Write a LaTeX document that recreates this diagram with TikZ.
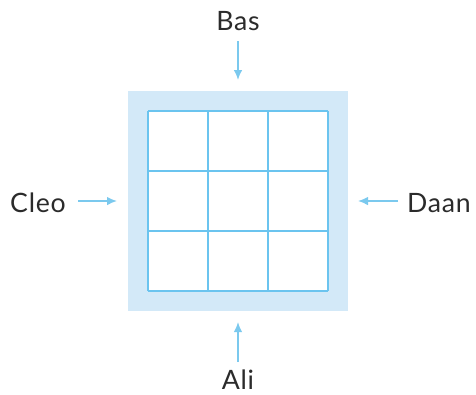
\documentclass[tikz,border=0pt]{standalone}
\usepackage{fontspec}
\setmainfont{Lato}[LetterSpace=3]
\usetikzlibrary{arrows.meta}
\definecolor{boardfill}{HTML}{D3E9F8}
\definecolor{gridline}{HTML}{6BC4EF}
\definecolor{arrowcol}{HTML}{7BC9EE}
\definecolor{textcol}{HTML}{2B2B2B}
\tikzset{
  lbl/.style={font=\fontsize{20}{24}\selectfont, text=textcol, inner sep=0pt},
  pointer/.style={draw=arrowcol, line width=1.2pt, -{Latex[length=7.5pt,width=6.5pt]}},
  gridl/.style={draw=gridline, line width=1.9pt}
}
\begin{document}
\begin{tikzpicture}[x=0.75pt,y=-0.75pt]
\useasboundingbox (0,0) rectangle (476,394);
\fill[boardfill] (128,91) rectangle (348,311);
\fill[white] (148,111) rectangle (328,291);
\node[draw=none, minimum size=0pt] (board) at (238,201) {};
\foreach \i in {0,1,2,3}{
  \draw[gridl] (148+60*\i,111) -- (148+60*\i,291);
  \draw[gridl] (148,111+60*\i) -- (328,111+60*\i);
}
\node[lbl] (bas) at (238,21) {Bas};
\node[lbl] (cleo) at (38,203) {Cleo};
\node[lbl] (daan) at (439,203) {Daan};
\node[lbl] (ali) at (238,380) {Ali};
\coordinate (bas0) at (238,41);
\coordinate (bas1) at (238,80);
\coordinate (cleo0) at (78,201);
\coordinate (cleo1) at (117,201);
\coordinate (daan0) at (398,201);
\coordinate (daan1) at (358,201);
\coordinate (ali0) at (238,362);
\coordinate (ali1) at (238,322);
\draw[pointer] (bas0) -- (bas1);
\draw[pointer] (cleo0) -- (cleo1);
\draw[pointer] (daan0) -- (daan1);
\draw[pointer] (ali0) -- (ali1);
\end{tikzpicture}
\end{document}
